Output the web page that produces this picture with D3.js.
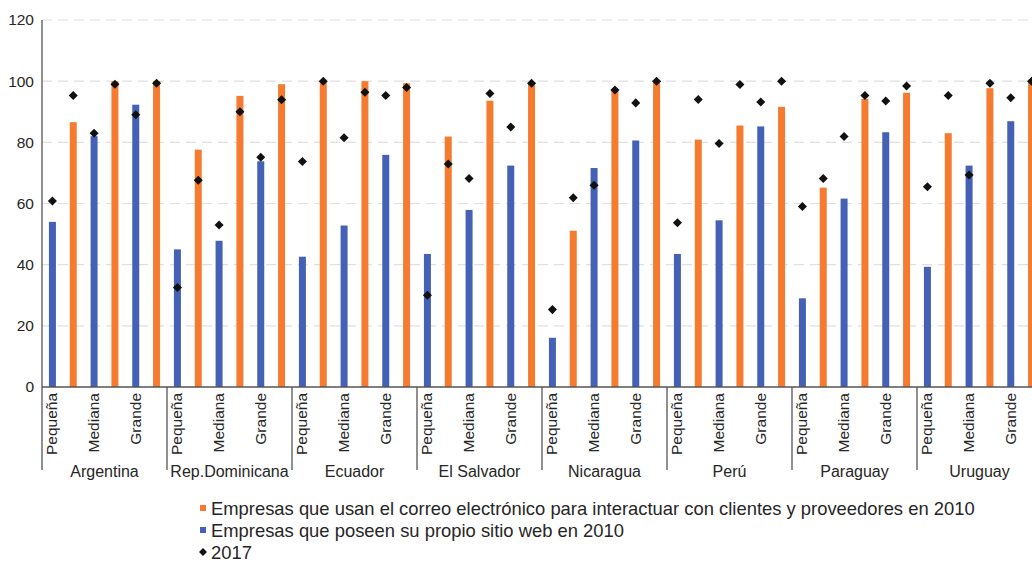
<!DOCTYPE html>
<html>
<head>
<meta charset="utf-8">
<script src="https://cdn.jsdelivr.net/npm/d3@7"></script>
<style>
  body { margin: 0; background: #fff; }
  text { font-family: "Liberation Sans", Arial, sans-serif; fill: #262626; }
</style>
</head>
<body>
<svg id="chart" width="1032" height="562"></svg>
<script>
const countries = ["Argentina", "Rep.Dominicana", "Ecuador", "El Salvador", "Nicaragua", "Perú", "Paraguay", "Uruguay"];
const sizes = ["Pequeña", "Mediana", "Grande"];
const yTicks = [0, 20, 40, 60, 80, 100, 120];

// values per country, in order Pequeña, Mediana, Grande
const web2010 = [
  54, 82, 92.3,
  45, 47.8, 73.8,
  42.6, 52.8, 75.9,
  43.5, 57.9, 72.4,
  16.1, 71.6, 80.6,
  43.5, 54.5, 85.2,
  29, 61.6, 83.3,
  39.3, 72.4, 86.9
];
const email2010 = [
  86.6, 100, 100,
  77.6, 95.2, 99,
  100, 100, 99.3,
  81.9, 93.6, 99.3,
  51.1, 96.9, 100,
  80.9, 85.5, 91.6,
  65.2, 94.2, 96.2,
  83, 97.7, 99.6
];
const web2017 = [
  60.8, 83, 89,
  32.5, 53, 75.1,
  73.7, 81.5, 95.3,
  30, 68.2, 85,
  25.3, 66, 92.9,
  53.7, 79.6, 93.2,
  59, 81.9, 93.5,
  65.5, 69.3, 94.6
];
const email2017 = [
  95.3, 99, 99.3,
  67.6, 90, 93.9,
  100, 96.4, 97.9,
  72.9, 96, 99.3,
  61.9, 97.1, 100,
  94, 98.9, 100,
  68.2, 95.3, 98.4,
  95.3, 99.3, 100
];

const legendItems = [
  { label: "Empresas que usan el correo electrónico para interactuar con clientes y proveedores en 2010", type: "email" },
  { label: "Empresas que poseen su propio sitio web en 2010", type: "web" },
  { label: "2017", type: "dot" }
];

const colors = { web: "#4561b6", email: "#f47b30", dot: "#111" };

const svg = d3.select("#chart");

const y = d3.scaleLinear().domain([0, 120]).range([387, 20]);
const xCountry = d3.scaleBand().domain(countries).range([42, 1042]);
const xSlot = d3.scaleBand().domain(d3.range(6)).range([0, xCountry.bandwidth()]);
const barWidth = 7;

// flatten into rows
const rows = [];
countries.forEach((c, ci) => {
  sizes.forEach((s, si) => {
    const i = ci * 3 + si;
    rows.push({ country: c, size: si, series: "web", value: web2010[i], v2017: web2017[i], slot: si * 2 });
    rows.push({ country: c, size: si, series: "email", value: email2010[i], v2017: email2017[i], slot: si * 2 + 1 });
  });
});
const cx = d => xCountry(d.country) + xSlot(d.slot) + xSlot.bandwidth() / 2;

// gridlines
svg.append("g")
  .selectAll("line")
  .data(yTicks.filter(t => t > 0))
  .join("line")
  .attr("x1", 42)
  .attr("x2", 1032)
  .attr("y1", d => y(d))
  .attr("y2", d => y(d))
  .attr("stroke", "#e0e0e0")
  .attr("stroke-width", 1.2)
  .attr("stroke-dasharray", "10,6");

// y axis labels
const yAxis = svg.append("g")
  .attr("transform", "translate(42,0)")
  .call(d3.axisLeft(y).tickValues(yTicks).tickSize(0).tickPadding(8));
yAxis.select(".domain").remove();
yAxis.selectAll("text")
  .attr("font-size", "15.5px")
  .attr("font-family", "Liberation Sans, Arial, sans-serif")
  .attr("fill", "#262626");

// bars
svg.append("g")
  .selectAll("rect")
  .data(rows)
  .join("rect")
  .attr("x", d => cx(d) - barWidth / 2)
  .attr("y", d => y(d.value))
  .attr("width", barWidth)
  .attr("height", d => y(0) - y(d.value))
  .attr("fill", d => colors[d.series]);

// 2017 markers
const diamond = d3.symbol().type(d3.symbolDiamond2).size(52);
svg.append("g")
  .selectAll("path")
  .data(rows)
  .join("path")
  .attr("d", diamond)
  .attr("transform", d => `translate(${cx(d)},${y(d.v2017)})`)
  .attr("fill", colors.dot);

// axis lines
svg.append("line")
  .attr("x1", 42).attr("x2", 1032)
  .attr("y1", y(0)).attr("y2", y(0))
  .attr("stroke", "#555").attr("stroke-width", 1.3);
svg.append("line")
  .attr("x1", 42).attr("x2", 42)
  .attr("y1", y(120)).attr("y2", 470)
  .attr("stroke", "#555").attr("stroke-width", 1.3);

// country separators
svg.append("g")
  .selectAll("line")
  .data(countries.slice(1))
  .join("line")
  .attr("x1", d => xCountry(d))
  .attr("x2", d => xCountry(d))
  .attr("y1", y(0))
  .attr("y2", 470)
  .attr("stroke", "#555")
  .attr("stroke-width", 1.3);

// size labels (rotated)
svg.append("g")
  .selectAll("text")
  .data(rows.filter(d => d.series === "web"))
  .join("text")
  .attr("transform", d => `translate(${cx(d) + 5},393) rotate(-90)`)
  .attr("text-anchor", "end")
  .attr("font-size", "15.5px")
  .text(d => sizes[d.size]);

// country labels
svg.append("g")
  .selectAll("text")
  .data(countries)
  .join("text")
  .attr("x", d => xCountry(d) + xCountry.bandwidth() / 2)
  .attr("y", 477)
  .attr("text-anchor", "middle")
  .attr("font-size", "16px")
  .text(d => d);

// legend
const legend = svg.append("g").attr("transform", "translate(199,0)");
legendItems.forEach((item, i) => {
  const ly = 508 + i * 22;
  if (item.type === "dot") {
    legend.append("path")
      .attr("d", d3.symbol().type(d3.symbolDiamond2).size(40))
      .attr("transform", `translate(4,${ly})`)
      .attr("fill", colors.dot);
  } else {
    legend.append("rect")
      .attr("x", 1).attr("y", ly - 3)
      .attr("width", 6).attr("height", 6)
      .attr("fill", colors[item.type]);
  }
  legend.append("text")
    .attr("x", 12)
    .attr("y", ly + 6.5)
    .attr("font-size", "18.4px")
    .text(item.label);
});
</script>
</body>
</html>
